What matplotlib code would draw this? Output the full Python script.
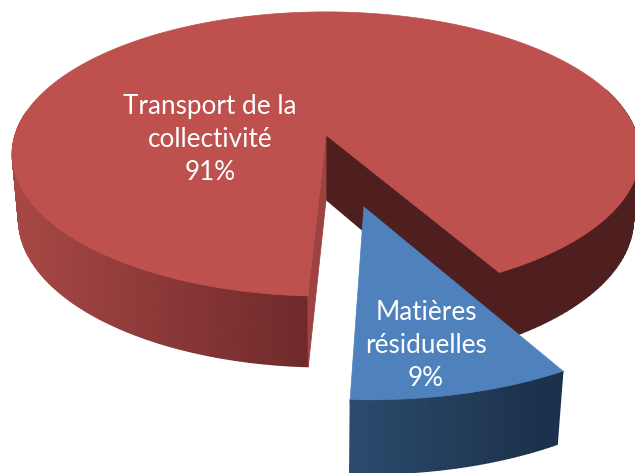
import numpy as np
import matplotlib
matplotlib.use("Agg")
import matplotlib.pyplot as plt
from matplotlib.colors import LinearSegmentedColormap

labels = ["Transport de la\ncollectivité", "Matières\nrésiduelles"]
values = [91, 9]
label_pos = [(210, 139), (426, 345)]

# fake 3D view of the disc, in pixels
cx, cy = 326, 135
rx, ry = 311, 139.6
persp = 0.134
depth = 66
converge = 0.02
gap_start = -92.9
explode = 0.4955
blue_r = 1.03

red_top = "#BE504D"
blue_top = "#4F81BD"
red_dark = "#4E1F1E"
red_strip = "#9E4341"
red_side = LinearSegmentedColormap.from_list("r", ["#A84846", "#702A2A"])
blue_side = LinearSegmentedColormap.from_list("b", ["#2C4B6E", "#1C324C"])


def project(u, v, z=0.0):
    w = 1 + persp * v + converge * z
    return cx + rx * u / w, cy - ry * v / w + depth * z / w


def rim(a, off=(0, 0), r=1.0):
    t = np.radians(a)
    return off[0] + r * np.cos(t), off[1] + r * np.sin(t)


def side(ax, angles, off, cmap, x0, x1, r=1.0):
    # outer wall as a two row mesh, coloured by x
    u, v = rim(angles, off, r)
    x_top, y_top = project(u, v)
    x_bot, y_bot = project(u, v, 1)
    X = np.vstack([x_top, x_bot])
    Y = np.vstack([y_top, y_bot])
    ax.pcolormesh(X, Y, X, shading="gouraud", cmap=cmap, vmin=x0, vmax=x1)


sweep = 360 * values[1] / sum(values)
gap_end = gap_start + sweep
mid = np.radians(gap_start + sweep / 2)
off = (explode * np.cos(mid), explode * np.sin(mid))

fig = plt.figure(figsize=(6.35, 4.73), dpi=100)
ax = fig.add_axes([0, 0, 1, 1])

# red slice: outer wall, inner walls, then top
side(ax, np.linspace(170, 360 + gap_start, 120), (0, 0), red_side, 15, 306)
side(ax, np.linspace(gap_end, 20, 60), (0, 0), LinearSegmentedColormap.from_list("d", [red_dark, red_dark]), 0, 1)

u, v = rim(gap_end)
p = [project(0, 0), project(u, v), project(u, v, 1), project(0, 0, 1)]
ax.fill(*zip(*p), color=red_dark, lw=0.6)
u, v = rim(gap_start)
p = [project(0, 0), project(u, v), project(u, v, 1), project(0, 0, 1)]
ax.fill(*zip(*p), color=red_strip, lw=0.6)

t = np.linspace(gap_end, 360 + gap_start, 400)
xs, ys = project(*rim(t))
ax.fill(np.r_[cx, xs], np.r_[cy, ys], color=red_top, lw=0.5)

# blue slice
side(ax, np.linspace(gap_start, gap_end, 40), off, blue_side, 350, 540, blue_r)
t = np.linspace(gap_start, gap_end, 60)
xs, ys = project(*rim(t, off, blue_r))
ax0, ay0 = project(*off)
ax.fill(np.r_[ax0, xs], np.r_[ay0, ys], color=blue_top, lw=0.5)

for lab, val, pos in zip(labels, values, label_pos):
    ax.text(pos[0], pos[1], "{}\n{}%".format(lab, val), color="white", family="Lato",
            fontsize=18.8, ha="center", va="center", linespacing=1.4)

ax.set_xlim(0, 635)
ax.set_ylim(473, 0)
ax.axis("off")

fig.savefig("out.png", dpi=100)
